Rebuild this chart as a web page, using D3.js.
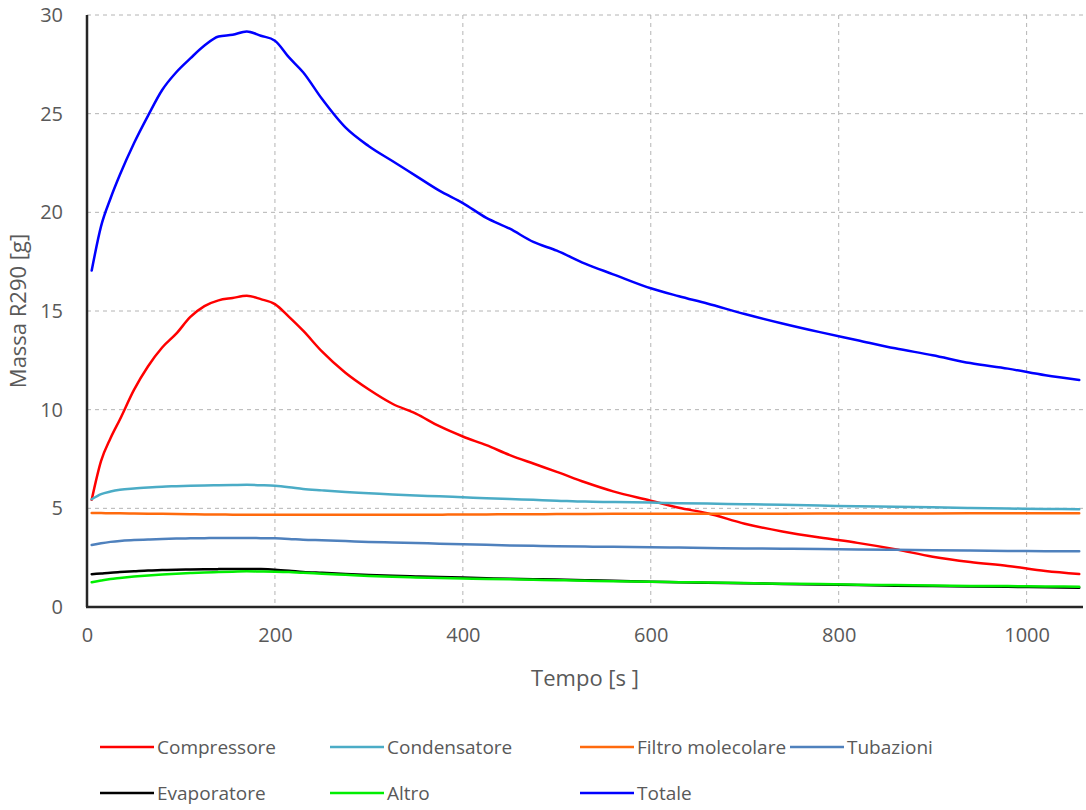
<!DOCTYPE html>
<html>
<head>
<meta charset="utf-8">
<script src="https://cdn.jsdelivr.net/npm/d3@7"></script>
<style>
  html, body { margin: 0; padding: 0; background: #fff; }
  svg text { font-family: "Open Sans", "Liberation Sans", sans-serif; fill: #595959; }
</style>
</head>
<body>
<svg id="chart" width="1086" height="810"></svg>
<script>
// Time samples [s]
const tempo = [5, 15, 25, 35, 50, 65, 80, 95, 110, 125, 140, 155, 170, 185, 200, 215, 230, 250, 275, 300,
  325, 350, 375, 400, 425, 450, 475, 500, 530, 560, 600, 630, 660, 700, 740, 780, 820, 860, 900, 940,
  980, 1020, 1056];

// R290 mass per component [g]
const compressore = [5.43, 7.4, 8.55, 9.5, 11.0, 12.2, 13.15, 13.85, 14.7, 15.25, 15.54, 15.66, 15.77, 15.6, 15.35,
  14.7, 14.0, 12.95, 11.87, 11.02, 10.3, 9.8, 9.16, 8.64, 8.2, 7.7, 7.27, 6.85, 6.32, 5.86, 5.39, 5.03, 4.75,
  4.22, 3.83, 3.52, 3.25, 2.93, 2.55, 2.28, 2.08, 1.82, 1.67];
const condensatore = [5.46, 5.72, 5.85, 5.94, 6.01, 6.06, 6.1, 6.12, 6.14, 6.16, 6.17, 6.18, 6.19, 6.17, 6.14,
  6.07, 5.98, 5.91, 5.83, 5.77, 5.7, 5.65, 5.61, 5.56, 5.51, 5.47, 5.43, 5.39, 5.34, 5.32, 5.29, 5.26, 5.24,
  5.21, 5.18, 5.14, 5.1, 5.08, 5.05, 5.02, 4.99, 4.97, 4.95];
const filtroMolecolare = [4.76, 4.76, 4.75, 4.75, 4.74, 4.73, 4.72, 4.71, 4.7, 4.69, 4.69, 4.68, 4.68, 4.67, 4.67,
  4.67, 4.67, 4.67, 4.67, 4.67, 4.68, 4.68, 4.68, 4.69, 4.69, 4.7, 4.7, 4.71, 4.71, 4.72, 4.72, 4.72, 4.73,
  4.73, 4.73, 4.74, 4.74, 4.74, 4.74, 4.75, 4.75, 4.75, 4.75];
const tubazioni = [3.14, 3.23, 3.3, 3.35, 3.39, 3.42, 3.45, 3.47, 3.48, 3.49, 3.5, 3.5, 3.5, 3.49, 3.48,
  3.45, 3.41, 3.38, 3.34, 3.3, 3.27, 3.24, 3.21, 3.18, 3.15, 3.12, 3.1, 3.08, 3.06, 3.05, 3.03, 3.01, 2.99,
  2.97, 2.95, 2.94, 2.92, 2.9, 2.88, 2.86, 2.84, 2.83, 2.82];
const evaporatore = [1.66, 1.7, 1.74, 1.77, 1.81, 1.85, 1.87, 1.89, 1.9, 1.91, 1.92, 1.93, 1.93, 1.92, 1.89,
  1.84, 1.78, 1.73, 1.67, 1.62, 1.58, 1.55, 1.52, 1.49, 1.46, 1.43, 1.41, 1.39, 1.36, 1.33, 1.28, 1.26, 1.23,
  1.2, 1.17, 1.14, 1.11, 1.08, 1.06, 1.04, 1.02, 1.0, 0.98];
const altro = [1.25, 1.34, 1.42, 1.47, 1.54, 1.6, 1.65, 1.69, 1.72, 1.75, 1.77, 1.79, 1.81, 1.8, 1.79,
  1.77, 1.73, 1.69, 1.63, 1.57, 1.53, 1.5, 1.47, 1.44, 1.42, 1.4, 1.38, 1.36, 1.33, 1.31, 1.28, 1.26, 1.24,
  1.21, 1.18, 1.16, 1.13, 1.11, 1.09, 1.07, 1.06, 1.04, 1.03];
const totale = [17.05, 19.3, 20.7, 21.9, 23.5, 24.9, 26.2, 27.1, 27.8, 28.45, 28.91, 29.0, 29.17, 28.95, 28.7,
  27.85, 27.1, 25.75, 24.3, 23.35, 22.6, 21.85, 21.1, 20.47, 19.72, 19.17, 18.5, 18.06, 17.4, 16.86, 16.15,
  15.75, 15.38, 14.85, 14.37, 13.93, 13.52, 13.11, 12.76, 12.36, 12.08, 11.74, 11.5];

const serieNomi = ["Compressore", "Condensatore", "Filtro molecolare", "Tubazioni", "Evaporatore", "Altro", "Totale"];
const serieValori = [compressore, condensatore, filtroMolecolare, tubazioni, evaporatore, altro, totale];
const serieColori = ["#ff0000", "#4bacc6", "#ff6a0d", "#4f81bd", "#000000", "#00ee00", "#0000ff"];

const xTicks = [0, 200, 400, 600, 800, 1000];
const yTicks = [0, 5, 10, 15, 20, 25, 30];

const svg = d3.select("#chart");
const plotLeft = 87, plotRight = 1083, plotTop = 15, plotBottom = 607;

const x = d3.scaleLinear().domain([0, 1060]).range([plotLeft, plotRight]);
const y = d3.scaleLinear().domain([0, 30]).range([plotBottom, plotTop]);

// Grid
svg.append("g").selectAll("line").data(yTicks.filter(d => d > 0)).join("line")
  .attr("x1", plotLeft).attr("x2", plotRight)
  .attr("y1", d => y(d)).attr("y2", d => y(d))
  .attr("stroke", "#b4b4b4").attr("stroke-width", 1).attr("stroke-dasharray", "4,4");
svg.append("g").selectAll("line").data(xTicks.filter(d => d > 0)).join("line")
  .attr("x1", d => x(d)).attr("x2", d => x(d))
  .attr("y1", plotTop).attr("y2", plotBottom)
  .attr("stroke", "#b4b4b4").attr("stroke-width", 1).attr("stroke-dasharray", "4,4");

// Axes (labels only, lines drawn below)
const gy = svg.append("g").attr("transform", `translate(${plotLeft},0)`)
  .call(d3.axisLeft(y).tickValues(yTicks).tickSize(0).tickPadding(24).tickFormat(d3.format("d")));
const gx = svg.append("g").attr("transform", `translate(0,${plotBottom})`)
  .call(d3.axisBottom(x).tickValues(xTicks).tickSize(0).tickPadding(21).tickFormat(d3.format("d")));
[gx, gy].forEach(g => {
  g.select(".domain").remove();
  g.selectAll("text").style("font-size", "20px").style("font-family", "'Open Sans', sans-serif").attr("fill", "#595959");
});

// Series
const line = d3.line().x((d, i) => x(tempo[i])).y(d => y(d)).curve(d3.curveMonotoneX);
svg.append("g").selectAll("path").data(serieValori).join("path")
  .attr("d", d => line(d))
  .attr("fill", "none")
  .attr("stroke", (d, i) => serieColori[i])
  .attr("stroke-width", 2.5)
  .attr("stroke-linejoin", "round")
  .attr("stroke-linecap", "round");

// Axis lines
svg.append("line").attr("x1", plotLeft).attr("x2", plotLeft).attr("y1", plotTop).attr("y2", plotBottom)
  .attr("stroke", "#262626").attr("stroke-width", 2.5);
svg.append("line").attr("x1", plotLeft - 1).attr("x2", plotRight).attr("y1", plotBottom).attr("y2", plotBottom)
  .attr("stroke", "#262626").attr("stroke-width", 2.5);

// Axis titles
svg.append("text").attr("transform", `translate(26,311) rotate(-90)`)
  .attr("text-anchor", "middle").style("font-size", "22px").text("Massa R290 [g]");
svg.append("text").attr("x", 585).attr("y", 686)
  .attr("text-anchor", "middle").style("font-size", "22px").text("Tempo [s ]");

// Legend
const legendPos = [[100, 747], [330, 747], [580, 747], [790, 747], [100, 793], [330, 793], [580, 793]];
const lg = svg.append("g").selectAll("g").data(serieNomi).join("g")
  .attr("transform", (d, i) => `translate(${legendPos[i][0]},${legendPos[i][1]})`);
lg.append("line").attr("x1", 0).attr("x2", 54).attr("y1", 0).attr("y2", 0)
  .attr("stroke", (d, i) => serieColori[i]).attr("stroke-width", 2.5);
lg.append("text").attr("x", 57).attr("y", 0).attr("dy", "0.35em")
  .style("font-size", "19px").text(d => d);
</script>
</body>
</html>
